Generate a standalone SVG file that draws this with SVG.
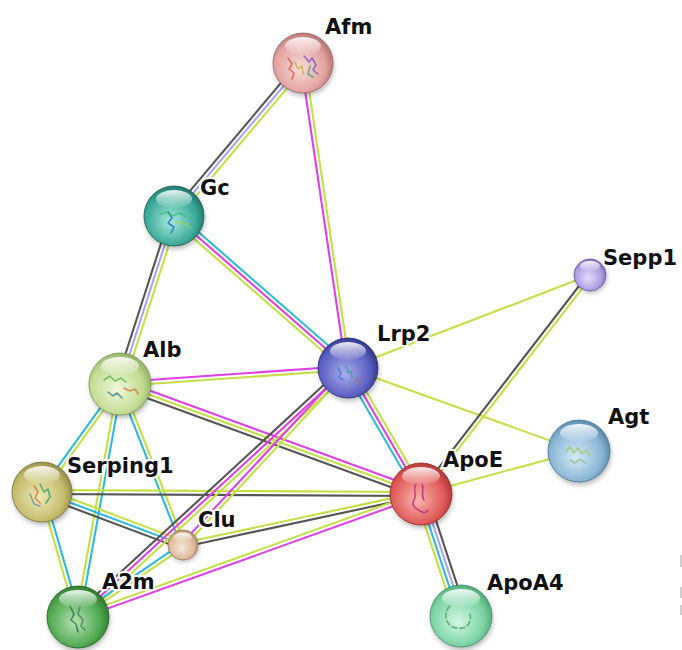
<svg xmlns="http://www.w3.org/2000/svg" width="682" height="650" viewBox="0 0 682 650">
<style>
.k{stroke:#555}.l{stroke:#a8a6f4}.y{stroke:#c4e046}.m{stroke:#e040e2}.c{stroke:#30bada}
#connectors line{stroke-width:2.1;fill:none}
text{font-family:"DejaVu Sans","Liberation Sans",sans-serif;font-weight:bold;font-size:21px;fill:#111;stroke:#fff;stroke-width:4;stroke-linejoin:round;paint-order:stroke}
.ball{stroke-width:0.8}
.sh{fill:#000;opacity:0.28;filter:url(#blur)}
.sq{fill:none;stroke-width:1.6;stroke-linecap:round;stroke-linejoin:round;opacity:0.75}
</style>
<defs>
<filter id="blur" x="-50%" y="-50%" width="200%" height="200%"><feGaussianBlur stdDeviation="2.5"/></filter>
<linearGradient id="hl" x1="0" y1="0" x2="0" y2="1"><stop offset="0" stop-color="#fff" stop-opacity="0.9"/><stop offset="1" stop-color="#fff" stop-opacity="0.05"/></linearGradient>
<radialGradient id="gAfm" cx="0.45" cy="0.55" r="0.6" fx="0.45" fy="0.6"><stop offset="0" stop-color="#f8dcd8"/><stop offset="0.7" stop-color="#e3a3a0"/><stop offset="1" stop-color="#a86a68"/></radialGradient>
<radialGradient id="gGc" cx="0.45" cy="0.55" r="0.6" fx="0.45" fy="0.6"><stop offset="0" stop-color="#a8e8dc"/><stop offset="0.7" stop-color="#3aaa98"/><stop offset="1" stop-color="#1c6a60"/></radialGradient>
<radialGradient id="gSepp1" cx="0.45" cy="0.55" r="0.6" fx="0.45" fy="0.6"><stop offset="0" stop-color="#e4dcfa"/><stop offset="0.7" stop-color="#ac9ce2"/><stop offset="1" stop-color="#7060b0"/></radialGradient>
<radialGradient id="gLrp2" cx="0.45" cy="0.55" r="0.6" fx="0.45" fy="0.6"><stop offset="0" stop-color="#aaaeec"/><stop offset="0.7" stop-color="#5a5ec0"/><stop offset="1" stop-color="#2a2e80"/></radialGradient>
<radialGradient id="gAlb" cx="0.45" cy="0.55" r="0.6" fx="0.45" fy="0.6"><stop offset="0" stop-color="#f0f8dc"/><stop offset="0.7" stop-color="#c2dc92"/><stop offset="1" stop-color="#86a660"/></radialGradient>
<radialGradient id="gAgt" cx="0.45" cy="0.55" r="0.6" fx="0.45" fy="0.6"><stop offset="0" stop-color="#d6eaf6"/><stop offset="0.7" stop-color="#8ab6d6"/><stop offset="1" stop-color="#4e7ea0"/></radialGradient>
<radialGradient id="gApoE" cx="0.45" cy="0.55" r="0.6" fx="0.45" fy="0.6"><stop offset="0" stop-color="#f8b4b0"/><stop offset="0.7" stop-color="#e05a58"/><stop offset="1" stop-color="#a63030"/></radialGradient>
<radialGradient id="gSerping1" cx="0.45" cy="0.55" r="0.6" fx="0.45" fy="0.6"><stop offset="0" stop-color="#eeeab8"/><stop offset="0.7" stop-color="#c4bc6c"/><stop offset="1" stop-color="#8a8240"/></radialGradient>
<radialGradient id="gClu" cx="0.45" cy="0.55" r="0.6" fx="0.45" fy="0.6"><stop offset="0" stop-color="#f6e8da"/><stop offset="0.7" stop-color="#dcb898"/><stop offset="1" stop-color="#a68866"/></radialGradient>
<radialGradient id="gA2m" cx="0.45" cy="0.55" r="0.6" fx="0.45" fy="0.6"><stop offset="0" stop-color="#b4e2b4"/><stop offset="0.7" stop-color="#4ea84e"/><stop offset="1" stop-color="#2a6e2a"/></radialGradient>
<radialGradient id="gApoA4" cx="0.45" cy="0.55" r="0.6" fx="0.45" fy="0.6"><stop offset="0" stop-color="#d4f6e4"/><stop offset="0.7" stop-color="#7cd4a4"/><stop offset="1" stop-color="#46a070"/></radialGradient>
</defs>
<rect width="682" height="650" fill="#fff"/>
<g id="connectors">
<g transform="translate(303,63) rotate(130.14)"><line class="k" x2="200" y1="4" y2="4"/><line class="l" x2="200" y1="0" y2="0"/><line class="y" x2="200" y1="-4" y2="-4"/></g>
<g transform="translate(303,63) rotate(81.61)"><line class="m" x2="308" y1="2" y2="2"/><line class="y" x2="308" y1="-2" y2="-2"/></g>
<g transform="translate(174,216) rotate(107.82)"><line class="k" x2="177" y1="4" y2="4"/><line class="l" x2="177" y1="0" y2="0"/><line class="y" x2="177" y1="-4" y2="-4"/></g>
<g transform="translate(174,216) rotate(41.14)"><line class="c" x2="231" y1="-4" y2="-4"/><line class="m" x2="231" y1="0" y2="0"/><line class="y" x2="231" y1="4" y2="4"/></g>
<g transform="translate(120,384) rotate(-4.01)"><line class="m" x2="229" y1="-2" y2="-2"/><line class="y" x2="229" y1="2" y2="2"/></g>
<g transform="translate(120,384) rotate(20.07)"><line class="m" x2="320" y1="-4" y2="-4"/><line class="y" x2="320" y1="0" y2="0"/><line class="k" x2="320" y1="4" y2="4"/></g>
<g transform="translate(120,384) rotate(125.84)"><line class="c" x2="133" y1="2" y2="2"/><line class="y" x2="133" y1="-2" y2="-2"/></g>
<g transform="translate(120,384) rotate(100.22)"><line class="c" x2="237" y1="-2" y2="-2"/><line class="y" x2="237" y1="2" y2="2"/></g>
<g transform="translate(120,384) rotate(68.63)"><line class="c" x2="173" y1="2" y2="2"/><line class="y" x2="173" y1="-2" y2="-2"/></g>
<g transform="translate(42,492) rotate(0.3)"><line class="y" x2="379" y1="-2" y2="-2"/><line class="k" x2="379" y1="2" y2="2"/></g>
<g transform="translate(42,492) rotate(20.6)"><line class="y" x2="151" y1="-4" y2="-4"/><line class="c" x2="151" y1="0" y2="0"/><line class="k" x2="151" y1="4" y2="4"/></g>
<g transform="translate(42,492) rotate(73.93)"><line class="y" x2="130" y1="2" y2="2"/><line class="c" x2="130" y1="-2" y2="-2"/></g>
<g transform="translate(183,545) rotate(-12.09)"><line class="y" x2="243" y1="-2" y2="-2"/><line class="k" x2="243" y1="2" y2="2"/></g>
<g transform="translate(78,617) rotate(-42.68)"><line class="k" x2="367" y1="-4" y2="-4"/><line class="m" x2="367" y1="0" y2="0"/><line class="y" x2="367" y1="4" y2="4"/></g>
<g transform="translate(183,545) rotate(-47.01)"><line class="m" x2="242" y1="-2" y2="-2"/><line class="y" x2="242" y1="2" y2="2"/></g>
<g transform="translate(78,617) rotate(-34.44)"><line class="c" x2="127" y1="-2" y2="-2"/><line class="y" x2="127" y1="2" y2="2"/></g>
<g transform="translate(78,617) rotate(-19.73)"><line class="y" x2="364" y1="-2" y2="-2"/><line class="m" x2="364" y1="2" y2="2"/></g>
<g transform="translate(348,368) rotate(59.92)"><line class="c" x2="146" y1="4" y2="4"/><line class="m" x2="146" y1="0" y2="0"/><line class="y" x2="146" y1="-4" y2="-4"/></g>
<g transform="translate(348,368) rotate(19.77)"><line class="y" x2="245"/></g>
<g transform="translate(348,368) rotate(-21.02)"><line class="y" x2="259"/></g>
<g transform="translate(421,494) rotate(-52.34)"><line class="k" x2="277" y1="-2" y2="-2"/><line class="y" x2="277" y1="2" y2="2"/></g>
<g transform="translate(421,494) rotate(-15.22)"><line class="y" x2="164"/></g>
<g transform="translate(421,494) rotate(71.85)"><line class="y" x2="128" y1="6" y2="6"/><line class="c" x2="128" y1="2" y2="2"/><line class="l" x2="128" y1="-2" y2="-2"/><line class="k" x2="128" y1="-6" y2="-6"/></g>
</g>
<g id="node-afm"><circle class="sh" cx="304" cy="66" r="30"/><circle class="ball" cx="303" cy="63" r="30" fill="url(#gAfm)" stroke="#9c6664"/><path class="sq" stroke="#e05030" d="M288 58l4 6-3 5 5 4-2 6"/><path class="sq" stroke="#c0b030" d="M295 62l3 7 4-3 1 8"/><path class="sq" stroke="#7050c0" d="M304 56l5 6 3-4 4 7-3 5 5 4"/><path class="sq" stroke="#40a070" d="M310 66l-2 8 5 3"/><ellipse cx="303" cy="46" rx="18" ry="9" fill="url(#hl)"/><text x="325" y="34">Afm</text></g>
<g id="node-gc"><circle class="sh" cx="175" cy="219" r="30"/><circle class="ball" cx="174" cy="216" r="30" fill="url(#gGc)" stroke="#1a5e56"/><path class="sq" stroke="#2060c0" d="M168 212l4 6-4 5 6 4-3 6"/><path class="sq" stroke="#30c070" d="M160 214l8-2 4 4 8-3 6 4"/><path class="sq" stroke="#a0d050" d="M176 222l10 2 5 4"/><ellipse cx="174" cy="199" rx="18" ry="9" fill="url(#hl)"/><text x="200" y="195">Gc</text></g>
<g id="node-sepp1"><circle class="sh" cx="591" cy="277" r="16"/><circle class="ball" cx="590" cy="275" r="16" fill="url(#gSepp1)" stroke="#6a5aa8"/><ellipse cx="590" cy="266" rx="10" ry="5" fill="url(#hl)"/><text x="603" y="265">Sepp1</text></g>
<g id="node-lrp2"><circle class="sh" cx="349" cy="371" r="30"/><circle class="ball" cx="348" cy="368" r="30" fill="url(#gLrp2)" stroke="#262a70"/><path class="sq" stroke="#3080d0" d="M338 368l3 5-2 4 4 3"/><path class="sq" stroke="#40a0a0" d="M346 366l2 7 3-2 1 7"/><path class="sq" stroke="#b07070" d="M356 378l3 3-2 3"/><ellipse cx="348" cy="351" rx="18" ry="9" fill="url(#hl)"/><text x="377" y="341">Lrp2</text></g>
<g id="node-alb"><circle class="sh" cx="121" cy="387" r="31"/><circle class="ball" cx="120" cy="384" r="31" fill="url(#gAlb)" stroke="#7c9a56"/><path class="sq" stroke="#50b040" d="M104 380l6-4 5 5 6-3 5 4"/><path class="sq" stroke="#3a7a8a" d="M108 392l5 4 4-3 5 5"/><path class="sq" stroke="#d07030" d="M124 388l6 3 5-2 3 5"/><ellipse cx="120" cy="366" rx="19" ry="9" fill="url(#hl)"/><text x="143" y="357">Alb</text></g>
<g id="node-agt"><circle class="sh" cx="580" cy="454" r="31"/><circle class="ball" cx="579" cy="451" r="31" fill="url(#gAgt)" stroke="#4a7898"/><path class="sq" stroke="#a0c860" d="M566 452l4-5 4 6 4-5 4 6 4-4 4 5"/><path class="sq" stroke="#90b870" d="M570 460l5 3 5-4 5 4"/><ellipse cx="579" cy="433" rx="19" ry="9" fill="url(#hl)"/><text x="608" y="424">Agt</text></g>
<g id="node-apoe"><circle class="sh" cx="422" cy="497" r="31"/><circle class="ball" cx="421" cy="494" r="31" fill="url(#gApoE)" stroke="#982a2a"/><path class="sq" stroke="#c02080" d="M416 484c-4 6 2 10-2 16s4 10 8 12 6-2 6-2"/><path class="sq" stroke="#c02080" d="M422 484c3 6-2 10 2 16"/><ellipse cx="421" cy="476" rx="19" ry="9" fill="url(#hl)"/><text x="443" y="467">ApoE</text></g>
<g id="node-serping1"><circle class="sh" cx="43" cy="495" r="30"/><circle class="ball" cx="42" cy="492" r="30" fill="url(#gSerping1)" stroke="#7e763a"/><path class="sq" stroke="#d07020" d="M34 486l4 6-3 6 5 5"/><path class="sq" stroke="#3a9a6a" d="M40 484l4 8 4-3 2 8-4 6"/><path class="sq" stroke="#6a8aa0" d="M30 494l4 10 6 2"/><ellipse cx="42" cy="475" rx="18" ry="9" fill="url(#hl)"/><text x="67" y="473">Serping1</text></g>
<g id="node-clu"><circle class="sh" cx="184" cy="547" r="15"/><circle class="ball" cx="183" cy="545" r="15" fill="url(#gClu)" stroke="#98785a"/><ellipse cx="183" cy="537" rx="9" ry="4.5" fill="url(#hl)"/><text x="198" y="527">Clu</text></g>
<g id="node-a2m"><circle class="sh" cx="79" cy="620" r="31"/><circle class="ball" cx="78" cy="617" r="31" fill="url(#gA2m)" stroke="#266426"/><path class="sq" stroke="#2e6a3a" d="M70 606l4 8-3 6 5 4 2 8"/><path class="sq" stroke="#4a7a5a" d="M80 606l-2 8 5 6-2 6 4 4"/><ellipse cx="78" cy="599" rx="19" ry="9" fill="url(#hl)"/><text x="102" y="589">A2m</text></g>
<g id="node-apoa4"><circle class="sh" cx="462" cy="619" r="31"/><circle class="ball" cx="461" cy="616" r="31" fill="url(#gApoA4)" stroke="#3e9266"/><path class="sq" stroke="#3aa050" stroke-dasharray="5 3" d="M450 606c-8 8-4 20 6 22s16-4 14-14"/><ellipse cx="461" cy="598" rx="19" ry="9" fill="url(#hl)"/><text x="487" y="590">ApoA4</text></g>
<g id="edge-marks" fill="#cfcfcf"><rect x="680" y="555" width="2" height="12"/><rect x="680" y="587" width="2" height="11"/><rect x="680" y="605" width="2" height="10"/></g>
</svg>
